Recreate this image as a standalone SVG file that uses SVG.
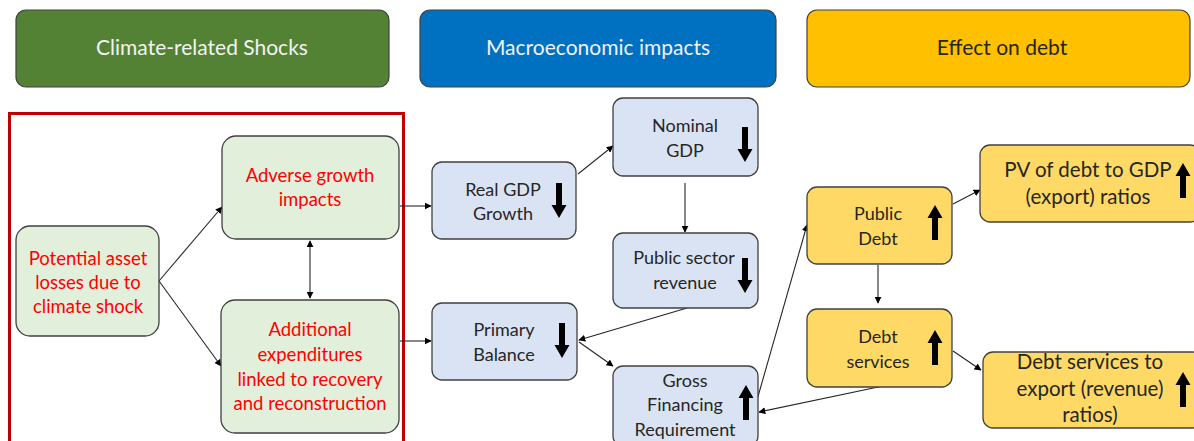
<svg xmlns="http://www.w3.org/2000/svg" width="1194" height="441" viewBox="0 0 1194 441">
<style>
.hdr{stroke:#404040;stroke-width:1.2}
.n{stroke:#404040;stroke-width:1.3}
.g{fill:#e2efda}
.b{fill:#dae3f3}
.y{fill:#ffd966}
text{font-family:Lato,"Liberation Sans",sans-serif;text-anchor:middle}
.ht{font-size:21px}
.red{fill:#ff0000;font-size:18.5px}
.blk{fill:#262626;font-size:18px}
.big{fill:#262626;font-size:20.5px}
.c{stroke:#262626;stroke-width:1.1;fill:none;marker-end:url(#ah)}
</style>
<defs>
<marker id="ah" viewBox="0 0 10 10" refX="9" refY="5" markerWidth="7" markerHeight="7" markerUnits="userSpaceOnUse" orient="auto-start-reverse">
<path d="M0,0 L10,5 L0,10 z" fill="#000"/>
</marker>
<path id="dn" d="M-3,-35 L3,-35 L3,-13 L7.5,-13 L0,0 L-7.5,-13 L-3,-13 z" fill="#000"/>
<path id="up" d="M-3,35 L3,35 L3,13 L7.5,13 L0,0 L-7.5,13 L-3,13 z" fill="#000"/>
</defs>
<rect width="1194" height="441" fill="#fff"/>

<g id="hdr-climate"><rect class="hdr" x="16" y="10" width="373" height="77" rx="10" fill="#548235"/><text class="ht" x="202" y="55" fill="#f2f2f2">Climate-related Shocks</text></g>
<g id="hdr-macro"><rect class="hdr" x="420" y="10" width="356" height="77" rx="10" fill="#0070c0"/><text class="ht" x="598" y="55" fill="#f2f2f2">Macroeconomic impacts</text></g>
<g id="hdr-debt"><rect class="hdr" x="807" y="10" width="383" height="77" rx="10" fill="#ffc000"/><text class="ht" x="1002" y="55" fill="#262626">Effect on debt</text></g>

<g id="shock-frame"><rect x="9.5" y="113.5" width="394" height="340" fill="none" stroke="#c00000" stroke-width="3"/></g>

<g id="connectors">
<line class="c" x1="159" y1="281" x2="222" y2="207"/>
<line class="c" x1="159" y1="281" x2="221" y2="366"/>
<line class="c" x1="310" y1="241" x2="310" y2="298" marker-start="url(#ah)"/>
<line class="c" x1="400" y1="206" x2="431" y2="206"/>
<line class="c" x1="400" y1="341" x2="431" y2="341"/>
<line class="c" x1="578" y1="174" x2="613" y2="146"/>
<line class="c" x1="685" y1="183" x2="685" y2="232"/>
<line class="c" x1="687" y1="308" x2="579" y2="340"/>
<line class="c" x1="579" y1="342" x2="613" y2="366"/>
<line class="c" x1="757" y1="400" x2="807" y2="225"/>
<line class="c" x1="883" y1="386" x2="759" y2="412"/>
<line class="c" x1="878" y1="265" x2="878" y2="303"/>
<line class="c" x1="953" y1="204" x2="980" y2="190"/>
<line class="c" x1="953" y1="351" x2="981" y2="370"/>
</g>

<g id="potential-losses"><rect class="n g" x="16" y="226" width="143" height="110" rx="14"/>
<text class="red"><tspan x="88" y="265">Potential asset</tspan><tspan x="88" y="289">losses due to</tspan><tspan x="88" y="313">climate shock</tspan></text></g>
<g id="adverse-growth"><rect class="n g" x="222" y="136" width="177" height="103" rx="14"/>
<text class="red"><tspan x="310" y="182">Adverse growth</tspan><tspan x="310" y="206">impacts</tspan></text></g>
<g id="additional-exp"><rect class="n g" x="221" y="300" width="178" height="133" rx="14"/>
<text class="red"><tspan x="310" y="336">Additional</tspan><tspan x="310" y="361">expenditures</tspan><tspan x="310" y="386">linked to recovery</tspan><tspan x="310" y="410">and reconstruction</tspan></text></g>

<g id="real-gdp"><rect class="n b" x="432" y="162" width="144" height="77" rx="10"/>
<text class="blk"><tspan x="503" y="196">Real GDP</tspan><tspan x="503" y="220">Growth</tspan></text><use href="#dn" x="559" y="218"/></g>
<g id="nominal-gdp"><rect class="n b" x="613" y="98" width="145" height="78" rx="10"/>
<text class="blk"><tspan x="685" y="132">Nominal</tspan><tspan x="685" y="157">GDP</tspan></text><use href="#dn" x="745" y="162"/></g>
<g id="public-revenue"><rect class="n b" x="613" y="233" width="145" height="75" rx="10"/>
<text class="blk"><tspan x="684" y="264">Public sector</tspan><tspan x="685" y="289">revenue</tspan></text><use href="#dn" x="745" y="293"/></g>
<g id="primary-balance"><rect class="n b" x="432" y="303" width="145" height="77" rx="10"/>
<text class="blk"><tspan x="504" y="336">Primary</tspan><tspan x="504" y="361">Balance</tspan></text><use href="#dn" x="562" y="358"/></g>
<g id="gross-financing"><rect class="n b" x="613" y="366" width="145" height="80" rx="10"/>
<text class="blk"><tspan x="685" y="387">Gross</tspan><tspan x="685" y="411">Financing</tspan><tspan x="685" y="436">Requirement</tspan></text><use href="#up" x="746" y="385"/></g>

<g id="public-debt"><rect class="n y" x="807" y="187" width="145" height="77" rx="10"/>
<text class="blk"><tspan x="878" y="220">Public</tspan><tspan x="878" y="245">Debt</tspan></text><use href="#up" x="935" y="205"/></g>
<g id="debt-services"><rect class="n y" x="807" y="309" width="145" height="78" rx="10"/>
<text class="blk"><tspan x="878" y="343">Debt</tspan><tspan x="878" y="368">services</tspan></text><use href="#up" x="935" y="330"/></g>
<g id="pv-debt"><rect class="n y" x="980" y="145" width="220" height="77" rx="10"/>
<text class="big"><tspan x="1088" y="177">PV of debt to GDP</tspan><tspan x="1088" y="204">(export) ratios</tspan></text><use href="#up" x="1183" y="163"/></g>
<g id="ds-export"><rect class="n y" x="983" y="352" width="220" height="76" rx="10"/>
<text class="big"><tspan x="1090" y="369">Debt services to</tspan><tspan x="1090" y="396">export (revenue)</tspan><tspan x="1090" y="422">ratios)</tspan></text><use href="#up" x="1183" y="372"/></g>
</svg>
